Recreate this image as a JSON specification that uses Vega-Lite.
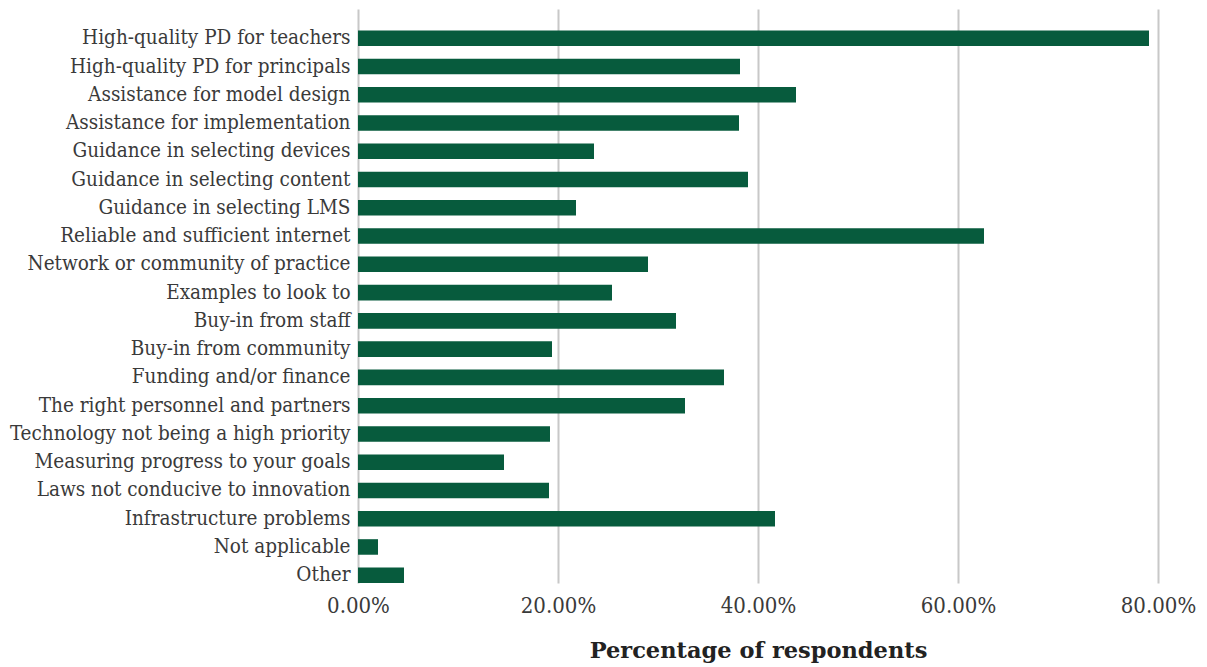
{
  "$schema": "https://vega.github.io/schema/vega-lite/v6.json",
  "autosize": "none",
  "width": 800,
  "height": 574,
  "padding": {"left": 358, "top": 9, "right": 49, "bottom": 84},
  "background": "white",
  "data": {
    "values": [
      {"cat": "High-quality PD for teachers", "pct": 0.791},
      {"cat": "High-quality PD for  principals", "pct": 0.382},
      {"cat": "Assistance for model design", "pct": 0.438},
      {"cat": "Assistance for implementation", "pct": 0.381},
      {"cat": "Guidance in selecting devices", "pct": 0.236},
      {"cat": "Guidance in selecting content", "pct": 0.390},
      {"cat": "Guidance in selecting LMS", "pct": 0.218},
      {"cat": "Reliable and sufficient internet", "pct": 0.626},
      {"cat": "Network or community of practice", "pct": 0.290},
      {"cat": "Examples to look to", "pct": 0.254},
      {"cat": "Buy-in from staff", "pct": 0.318},
      {"cat": "Buy-in from community", "pct": 0.194},
      {"cat": "Funding and/or finance", "pct": 0.366},
      {"cat": "The right personnel and partners", "pct": 0.327},
      {"cat": "Technology not being a high priority", "pct": 0.192},
      {"cat": "Measuring progress to your goals", "pct": 0.146},
      {"cat": "Laws not conducive to innovation", "pct": 0.191},
      {"cat": "Infrastructure problems", "pct": 0.417},
      {"cat": "Not applicable", "pct": 0.020},
      {"cat": "Other", "pct": 0.046}
    ]
  },
  "mark": {"type": "bar", "color": "#075B3D"},
  "encoding": {
    "y": {
      "field": "cat",
      "type": "nominal",
      "sort": null,
      "scale": {"paddingInner": 0.45, "paddingOuter": 0.38, "align": 1},
      "axis": {
        "title": null,
        "domain": false,
        "ticks": false,
        "labelPadding": 8,
        "labelFont": "DejaVu Serif Condensed",
        "labelFontSize": 20.5,
        "labelColor": "#3a3a3a",
        "labelLimit": 400
      }
    },
    "x": {
      "field": "pct",
      "type": "quantitative",
      "scale": {"domain": [0, 0.8], "nice": false},
      "axis": {
        "title": "Percentage of respondents",
        "format": ".2%",
        "values": [0, 0.2, 0.4, 0.6, 0.8],
        "domain": false,
        "ticks": false,
        "grid": true,
        "gridColor": "#c8c8c8",
        "gridWidth": 2,
        "labelFlush": false,
        "labelPadding": 12,
        "labelFont": "DejaVu Serif Condensed",
        "labelFontSize": 22,
        "labelColor": "#3a3a3a",
        "titleFont": "DejaVu Serif",
        "titleFontSize": 22.5,
        "titleFontWeight": "bold",
        "titleColor": "#222222",
        "titlePadding": 23
      }
    }
  },
  "config": {"view": {"stroke": null}}
}
